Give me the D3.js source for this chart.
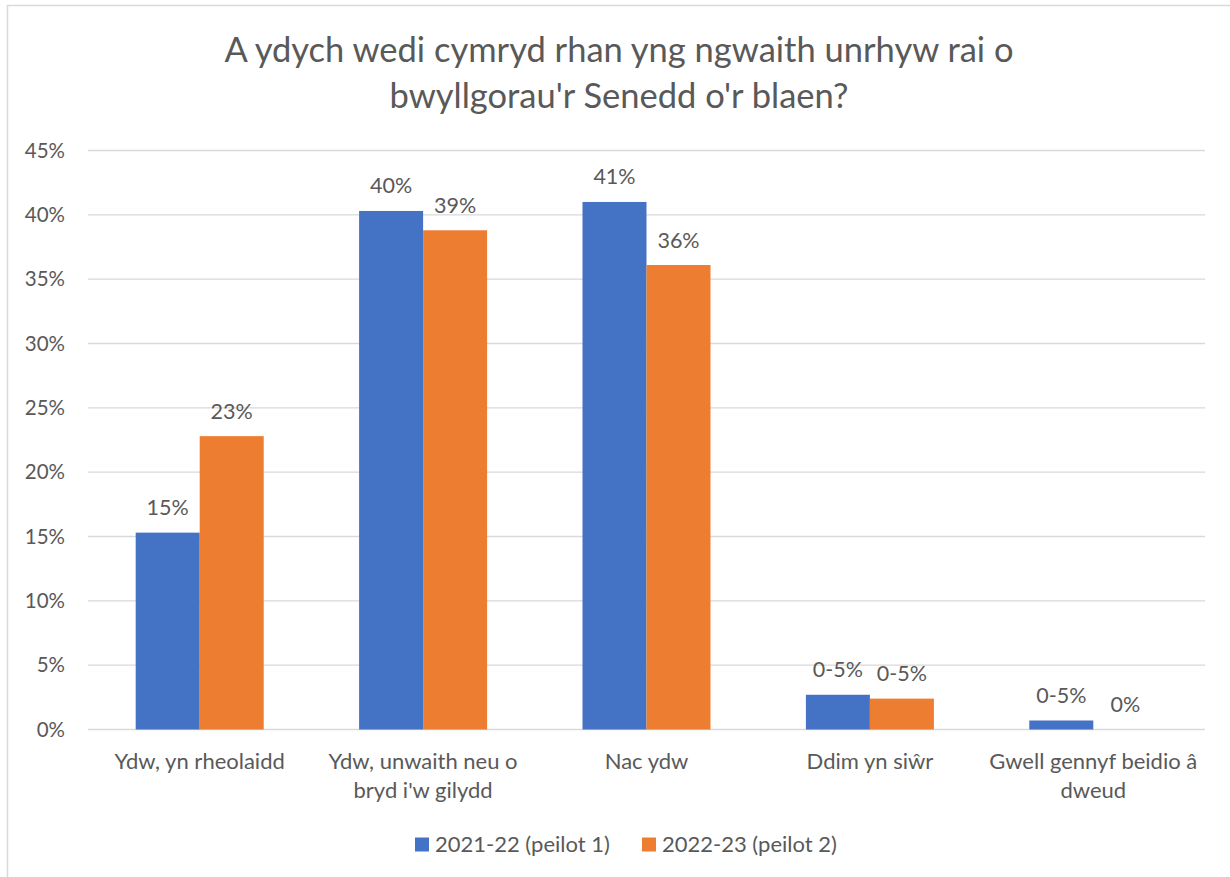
<!DOCTYPE html>
<html>
<head>
<meta charset="utf-8">
<script src="https://cdn.jsdelivr.net/npm/d3@7"></script>
<style>
  html, body { margin: 0; padding: 0; background: #fff; }
  svg { display: block; }
  text { font-family: Lato, "Open Sans", "Liberation Sans", sans-serif; fill: #595959; }
</style>
</head>
<body>
<svg id="chart" width="1230" height="877"></svg>
<script>
const titleLines = ["A ydych wedi cymryd rhan yng ngwaith unrhyw rai o", "bwyllgorau'r Senedd o'r blaen?"];
const categories = [
  ["Ydw, yn rheolaidd"],
  ["Ydw, unwaith neu o", "bryd i'w gilydd"],
  ["Nac ydw"],
  ["Ddim yn siŵr"],
  ["Gwell gennyf beidio â", "dweud"]
];
const seriesNames = ["2021-22 (peilot 1)", "2022-23 (peilot 2)"];
const seriesColors = ["#4472C4", "#ED7D31"];
const values2021 = [15.3, 40.3, 41.0, 2.7, 0.7];
const values2022 = [22.8, 38.8, 36.1, 2.4, 0];
const labels2021 = ["15%", "40%", "41%", "0-5%", "0-5%"];
const labels2022 = ["23%", "39%", "36%", "0-5%", "0%"];
const yTicks = [0, 5, 10, 15, 20, 25, 30, 35, 40, 45];

const FS = 22;
const svg = d3.select("#chart");

// outer border
svg.append("rect").attr("x", 7.5).attr("y", 5.5).attr("width", 1260).attr("height", 900)
  .attr("fill", "none").attr("stroke", "#d9d9d9").attr("stroke-width", 1.5);

const plot = { left: 88, right: 1205, top: 150.5, bottom: 729.5 };

const x0 = d3.scaleBand().domain(d3.range(categories.length))
  .range([plot.left, plot.right]).paddingInner(0.427).paddingOuter(0.2135);
const x1 = d3.scaleBand().domain([0, 1]).range([0, x0.bandwidth()]);
const y = d3.scaleLinear().domain([0, 45]).range([plot.bottom, plot.top]);

// gridlines
svg.append("g").selectAll("line").data(yTicks).join("line")
  .attr("x1", plot.left).attr("x2", plot.right)
  .attr("y1", d => y(d)).attr("y2", d => y(d))
  .attr("stroke", "#d9d9d9").attr("stroke-width", 1.3);

// y axis labels
const yAxis = d3.axisLeft(y).tickValues(yTicks).tickFormat(d => d + "%").tickSize(0).tickPadding(0);
const gy = svg.append("g").attr("transform", `translate(65,0)`).call(yAxis);
gy.select(".domain").remove();
gy.selectAll("text").attr("font-size", 20.5).attr("fill", "#595959")
  .style("font-family", "Lato, 'Open Sans', 'Liberation Sans', sans-serif");

// bars
const series = [values2021, values2022];
const seriesLabels = [labels2021, labels2022];
series.forEach((vals, s) => {
  const g = svg.append("g");
  g.selectAll("rect").data(vals).join("rect")
    .attr("x", (d, i) => x0(i) + x1(s))
    .attr("width", x1.bandwidth())
    .attr("y", d => y(d))
    .attr("height", d => y(0) - y(d))
    .attr("fill", seriesColors[s]);
  g.selectAll("text").data(vals).join("text")
    .attr("x", (d, i) => x0(i) + x1(s) + x1.bandwidth() / 2)
    .attr("y", d => y(d) - 25)
    .attr("dy", "0.35em")
    .attr("text-anchor", "middle")
    .attr("font-size", 21.5)
    .text((d, i) => seriesLabels[s][i]);
});

// x axis category labels
const xAxis = d3.axisBottom(x0).tickSize(0).tickFormat("");
const gx = svg.append("g").attr("transform", `translate(0,${plot.bottom})`).call(xAxis);
gx.select(".domain").remove();
gx.selectAll(".tick").each(function(d) {
  const t = d3.select(this).append("text")
    .attr("text-anchor", "middle").attr("font-size", FS).attr("fill", "#595959");
  categories[d].forEach((line, k) => {
    t.append("tspan").attr("x", 0).attr("y", 32 + k * 28.5).attr("dy", "0.35em").text(line);
  });
});

// title
const title = svg.append("text").attr("text-anchor", "middle").attr("font-size", 34.5);
titleLines.forEach((line, k) => {
  title.append("tspan").attr("x", 619).attr("y", 50 + k * 46).attr("dy", "0.35em").text(line);
});

// legend
const legendItems = [{ x: 415 }, { x: 642 }];
const lg = svg.append("g");
seriesNames.forEach((name, s) => {
  lg.append("rect").attr("x", legendItems[s].x).attr("y", 837.5).attr("width", 14).attr("height", 14)
    .attr("fill", seriesColors[s]);
  lg.append("text").attr("x", legendItems[s].x + 20).attr("y", 844.5).attr("dy", "0.35em")
    .attr("font-size", FS).text(name);
});
</script>
</body>
</html>
